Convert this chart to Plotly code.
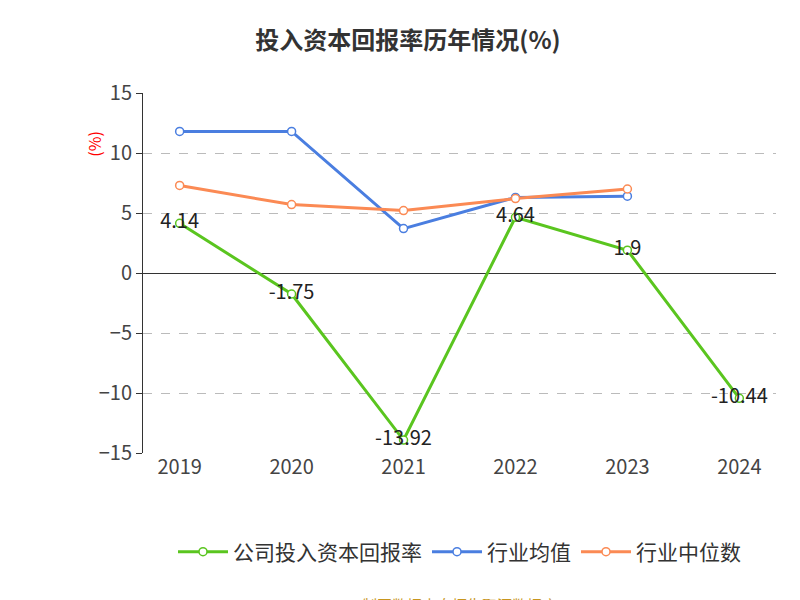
import plotly.graph_objects as go

years = ["2019", "2020", "2021", "2022", "2023", "2024"]
company = [4.14, -1.75, -13.92, 4.64, 1.9, -10.44]
industry_avg = [11.8, 11.8, 3.7, 6.3, 6.4, None]
industry_median = [7.3, 5.7, 5.2, 6.2, 7.0, None]
company_labels = ["4.14", "-1.75", "-13.92", "4.64", "1.9", "-10.44"]

font = "Noto Sans CJK SC"
fig = go.Figure()

fig.add_trace(go.Scatter(
    x=years, y=company, name="公司投入资本回报率", mode="lines+markers+text",
    line=dict(color="#5ac51f", width=3),
    marker=dict(size=8, color="white", line=dict(color="#5ac51f", width=1.5)),
    text=company_labels, textposition="middle center",
    textfont=dict(size=20, color="#222"),
))
fig.add_trace(go.Scatter(
    x=years, y=industry_avg, name="行业均值", mode="lines+markers",
    line=dict(color="#4a7ee0", width=3),
    marker=dict(size=8, color="white", line=dict(color="#4a7ee0", width=1.5)),
))
fig.add_trace(go.Scatter(
    x=years, y=industry_median, name="行业中位数", mode="lines+markers",
    line=dict(color="#fb8a54", width=3),
    marker=dict(size=8, color="white", line=dict(color="#fb8a54", width=1.5)),
))

fig.update_layout(
    width=800, height=600, plot_bgcolor="white", paper_bgcolor="white",
    font=dict(family=font, color="#333"),
    margin=dict(l=135, r=32, t=85, b=155),
    title=dict(text="<b>投入资本回报率历年情况(%)</b>", x=0.5, y=0.96,
               xanchor="center", font=dict(size=24, color="#333")),
    legend=dict(orientation="h", x=0.5, xanchor="center", y=-0.275, yanchor="middle",
                font=dict(size=21, color="#333"), itemwidth=50),
    xaxis=dict(type="category", showgrid=False, showline=False, ticks="",
               tickfont=dict(size=20, color="#444")),
    yaxis=dict(range=[-15, 15], dtick=5, showgrid=True, gridcolor="#bbbbbb",
               griddash="dash", showline=True, linecolor="#333", ticks="outside",
               ticklen=6, tickcolor="#333", zeroline=True, zerolinecolor="#333",
               zerolinewidth=1, tickfont=dict(size=20, color="#444")),
    annotations=[
        dict(text="(%)", x=-0.1, y=0.9, xref="paper", yref="paper", textangle=-90,
             showarrow=False, font=dict(size=16, color="red")),
        dict(text="制图数据来自恒生聚源数据库", x=0.5, y=-0.42, xref="paper", yref="paper",
             yanchor="middle", showarrow=False, font=dict(size=15, color="#c8961e")),
    ],
)

fig.write_html("out.html")
